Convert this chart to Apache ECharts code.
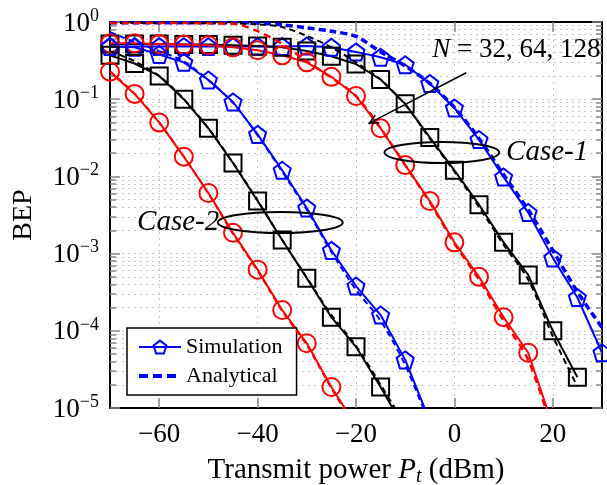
<!DOCTYPE html>
<html><head><meta charset="utf-8">
<script src="https://cdn.jsdelivr.net/npm/echarts@6/dist/echarts.min.js"></script>
<style>html,body{margin:0;padding:0;background:#fff}#c{width:607px;height:485px}</style>
</head><body><div id="c"></div>
<script>
// ---- data ----
const powerDbm = [-70,-65,-60,-55,-50,-45,-40,-35,-30,-25,-20,-15,-10,-5,0,5,10,15,20,25,30];
const xTicks = [-60,-40,-20,0,20];
// Case-1 simulation
const c1Sim128 = [0.53,0.53,0.52,0.51,0.50,0.47,0.43,0.37,0.30,0.195,0.11,0.042,0.014,0.0048,0.0014,5.0e-4,1.5e-4,5.2e-5,5.9e-6,null,null];
const c1Sim64  = [0.52,0.52,0.52,0.51,0.51,0.50,0.49,0.47,0.42,0.36,0.285,0.18,0.087,0.032,0.012,0.0043,0.0014,5.3e-4,1.0e-4,2.5e-5,null];
const c1Sim32  = [0.48,0.48,0.48,0.48,0.48,0.48,0.48,0.48,0.49,0.47,0.41,0.35,0.28,0.16,0.077,0.030,0.0098,0.0034,8.8e-4,2.7e-4,5.2e-5];
// Case-1 analytical
const c1Ana128 = [0.97,0.97,0.97,0.97,0.96,0.95,0.76,0.52,0.31,0.19,0.11,0.042,0.014,0.0046,0.00135,4.6e-4,1.35e-4,4.2e-5,5e-6,null,null];
const c1Ana64  = [0.97,0.97,0.97,0.97,0.97,0.96,0.93,0.86,0.66,0.47,0.30,0.18,0.085,0.031,0.0115,0.0040,0.0013,4.6e-4,8.5e-5,1.9e-5,null];
const c1Ana32  = [0.98,0.98,0.98,0.98,0.98,0.98,0.97,0.92,0.84,0.76,0.65,0.41,0.27,0.16,0.078,0.031,0.0105,0.0037,0.0011,3.2e-4,1.1e-4];
// Case-2 simulation
const c2Sim128 = [0.227,0.117,0.050,0.018,0.0061,0.00186,6.2e-4,1.86e-4,6.9e-5,1.87e-5,5.9e-6,null,null,null,null,null,null,null,null,null,null];
const c2Sim64  = [0.37,0.29,0.20,0.10,0.042,0.0149,0.0048,0.0015,4.8e-4,1.5e-4,6.2e-5,1.87e-5,5.2e-6,null,null,null,null,null,null,null,null];
const c2Sim32  = [0.48,0.47,0.38,0.30,0.177,0.092,0.035,0.012,0.0039,0.0011,3.8e-4,1.6e-4,4.2e-5,6.8e-6,null,null,null,null,null,null,null];
// Case-2 analytical
const c2Ana128 = [0.23,0.118,0.05,0.018,0.006,0.0018,6.0e-4,1.8e-4,6.5e-5,1.8e-5,5.5e-6,null,null,null,null,null,null,null,null,null,null];
const c2Ana64  = [0.42,0.31,0.20,0.10,0.042,0.015,0.0049,0.0015,4.9e-4,1.6e-4,6.4e-5,2.0e-5,6e-6,null,null,null,null,null,null,null,null];
const c2Ana32  = [0.74,0.55,0.42,0.31,0.177,0.09,0.034,0.0115,0.0037,0.00105,3.4e-4,1.35e-4,3.6e-5,6e-6,null,null,null,null,null,null,null];
// annotations (data coordinates)
const ellipseCase1 = {x: [-14.2, 9.1], y: [0.0149, 0.0279]};
const ellipseCase2 = {x: [-48.1, -22.7], y: [0.00185, 0.00346]};
const arrowFrom = [2.4, 0.22], arrowTo = [-17.3, 0.049];
const labelCase1 = [10.5, 0.0207], labelCase2 = [-64.5, 0.00257], labelN = [-4.5, 0.434];

const FONT = '"Liberation Serif", "Times New Roman", serif';
const RED = '#ff0000', BLUE = '#0000ff', BLACK = '#000000';
const PENT = 'path://M0,-1L0.951,-0.309L0.588,0.809L-0.588,0.809L-0.951,-0.309Z';

function pairs(arr) { const out = []; arr.forEach((v, i) => { if (v !== null) out.push([powerDbm[i], v]); }); return out; }
function sim(name, arr, color, symbol, size) {
  return {name, type: 'line', data: pairs(arr), symbol, symbolSize: size, clip: true,
    lineStyle: {color, width: 2}, itemStyle: {color: 'rgba(0,0,0,0)', borderColor: color, borderWidth: 2}, z: 3};
}
function ana(name, arr, color, width, dash) {
  return {name, type: 'line', data: pairs(arr), symbol: 'none', smooth: 0.3, clip: true,
    lineStyle: {color, width, type: dash}, itemStyle: {color}, z: 4};
}

const chart = echarts.init(document.getElementById('c'), null, {renderer: 'canvas'});
const yFmt = v => { const e = Math.round(Math.log10(v)); return '{b|10}{s|' + (e === 0 ? '0' : '\u2212' + (-e)) + '}'; };
const yRich = {b: {fontSize: 27, fontFamily: FONT, color: '#000', lineHeight: 30, verticalAlign: 'bottom'},
               s: {fontSize: 18, fontFamily: FONT, color: '#000', lineHeight: 18, verticalAlign: 'top'}};
const tickStyle = {color: '#888', width: 1.5};
const gridLine = {color: '#c8c8c8', type: [2, 4], width: 1};
const option = {
  animation: false,
  backgroundColor: '#fff',
  grid: {left: 110, right: 5, top: 22, bottom: 77, containLabel: false, outerBoundsMode: 'none'},
  xAxis: [{
    type: 'value', min: -70, max: 30, interval: 10,
    axisLine: {show: true, onZero: false, lineStyle: {color: '#000', width: 2}},
    axisTick: {show: true, inside: true, length: 10, lineStyle: tickStyle, customValues: xTicks},
    axisLabel: {show: true, margin: 13, fontSize: 27, fontFamily: FONT, color: '#000', customValues: xTicks,
      formatter: v => v < 0 ? '\u2212' + (-v) : '' + v},
    splitLine: {show: true, lineStyle: gridLine},
    name: 'Transmit power {i|P}{sub|t} (dBm)', nameLocation: 'middle', nameGap: 43,
    nameTextStyle: {fontSize: 29, fontFamily: FONT, color: '#000', lineHeight: 34,
      rich: {i: {fontSize: 29, fontFamily: FONT, fontStyle: 'italic', lineHeight: 34},
             sub: {fontSize: 20, fontFamily: FONT, fontStyle: 'italic', lineHeight: 20, verticalAlign: 'bottom'}}}
  }, {
    type: 'value', min: -70, max: 30, interval: 10, position: 'top',
    axisLine: {show: true, onZero: false, lineStyle: {color: '#000', width: 2}},
    axisTick: {show: true, inside: true, length: 10, lineStyle: tickStyle, customValues: xTicks},
    axisLabel: {show: false}, splitLine: {show: false}
  }],
  yAxis: [{
    type: 'log', logBase: 10, min: 1e-5, max: 1, position: 'left',
    axisLine: {show: true, onZero: false, lineStyle: {color: '#000', width: 2}},
    axisTick: {show: true, inside: true, length: 10, lineStyle: tickStyle},
    minorTick: {show: true, splitNumber: 9, length: 6, lineStyle: tickStyle},
    axisLabel: {margin: 11, formatter: yFmt, rich: yRich},
    splitLine: {show: true, lineStyle: gridLine},
    minorSplitLine: {show: true, lineStyle: gridLine},
    name: 'BEP', nameLocation: 'middle', nameGap: 72, nameRotate: 90,
    nameTextStyle: {fontSize: 28, fontFamily: FONT, color: '#000'}
  }, {
    type: 'log', logBase: 10, min: 1e-5, max: 1, position: 'right',
    axisLine: {show: true, onZero: false, lineStyle: {color: '#000', width: 2}},
    axisTick: {show: true, inside: true, length: 10, lineStyle: tickStyle},
    minorTick: {show: true, splitNumber: 9, length: 6, lineStyle: tickStyle},
    axisLabel: {show: false}, splitLine: {show: false}
  }],
  legend: {
    data: [{name: 'Simulation', lineStyle: {width: 2}},
           {name: 'Analytical', itemStyle: {opacity: 0}, lineStyle: {width: 4, type: [9, 5]}}],
    orient: 'vertical', left: 127, top: 328,
    itemWidth: 42, itemHeight: 16, itemGap: 7, padding: [8, 14, 8, 10],
    backgroundColor: '#fff', borderColor: '#000', borderWidth: 1.5, borderRadius: 0,
    textStyle: {fontSize: 22, fontFamily: FONT, color: '#000'}
  },
  series: [
    sim('Simulation', c1Sim32, BLUE, PENT, 17),
    sim('c1-64', c1Sim64, BLACK, 'rect', 17),
    sim('c1-128', c1Sim128, RED, 'circle', 18),
    sim('c2-32', c2Sim32, BLUE, PENT, 17),
    sim('c2-64', c2Sim64, BLACK, 'rect', 17),
    sim('c2-128', c2Sim128, RED, 'circle', 18),
    ana('Analytical', c1Ana32, BLUE, 3.5, [7, 4]),
    ana('a1-64', c1Ana64, BLACK, 2, [6, 4]),
    ana('a1-128', c1Ana128, RED, 2.5, [7, 5]),
    ana('a2-32', c2Ana32, BLUE, 2, [6, 4]),
    ana('a2-64', c2Ana64, BLACK, 2, [6, 4]),
    ana('a2-128', c2Ana128, RED, 2, [6, 4])
  ]
};
chart.setOption(option);

// annotations positioned through the chart's own scales
const P = d => chart.convertToPixel({gridIndex: 0}, d);
function ellipseEl(e) {
  const cy = Math.sqrt(e.y[0] * e.y[1]);
  const l = P([e.x[0], cy]), r = P([e.x[1], cy]);
  const t = P([(e.x[0] + e.x[1]) / 2, e.y[1]]), b = P([(e.x[0] + e.x[1]) / 2, e.y[0]]);
  return {type: 'ellipse', z: 10, shape: {cx: (l[0] + r[0]) / 2, cy: (t[1] + b[1]) / 2, rx: (r[0] - l[0]) / 2, ry: (b[1] - t[1]) / 2},
    style: {fill: 'none', stroke: '#000', lineWidth: 2}};
}
const a0 = P(arrowFrom), a1 = P(arrowTo);
const ang = Math.atan2(a1[1] - a0[1], a1[0] - a0[0]);
const hl = 10, hw = 0.45;
const head = [[a1[0] - hl * Math.cos(ang - hw), a1[1] - hl * Math.sin(ang - hw)], a1, [a1[0] - hl * Math.cos(ang + hw), a1[1] - hl * Math.sin(ang + hw)]];
const c1p = P(labelCase1), c2p = P(labelCase2), np = P(labelN);
chart.setOption({graphic: [
  ellipseEl(ellipseCase1), ellipseEl(ellipseCase2),
  {type: 'line', z: 10, shape: {x1: a0[0], y1: a0[1], x2: a1[0], y2: a1[1]}, style: {stroke: '#000', lineWidth: 1.5}},
  {type: 'polyline', z: 10, shape: {points: head}, style: {stroke: '#000', lineWidth: 1.5, fill: 'none'}},
  {type: 'text', z: 11, x: c1p[0], y: c1p[1], style: {text: 'Case-1', fontSize: 29, fontFamily: FONT, fontStyle: 'italic', fill: '#000', verticalAlign: 'middle', align: 'left'}},
  {type: 'text', z: 11, x: c2p[0], y: c2p[1], style: {text: 'Case-2', fontSize: 29, fontFamily: FONT, fontStyle: 'italic', fill: '#000', verticalAlign: 'middle', align: 'left'}},
  {type: 'text', z: 11, x: np[0], y: np[1], style: {text: '{i|N} = 32, 64, 128', fontSize: 27, fontFamily: FONT, fill: '#000', verticalAlign: 'middle', align: 'left',
    rich: {i: {fontSize: 27, fontFamily: FONT, fontStyle: 'italic'}}}}
]});
</script></body></html>
